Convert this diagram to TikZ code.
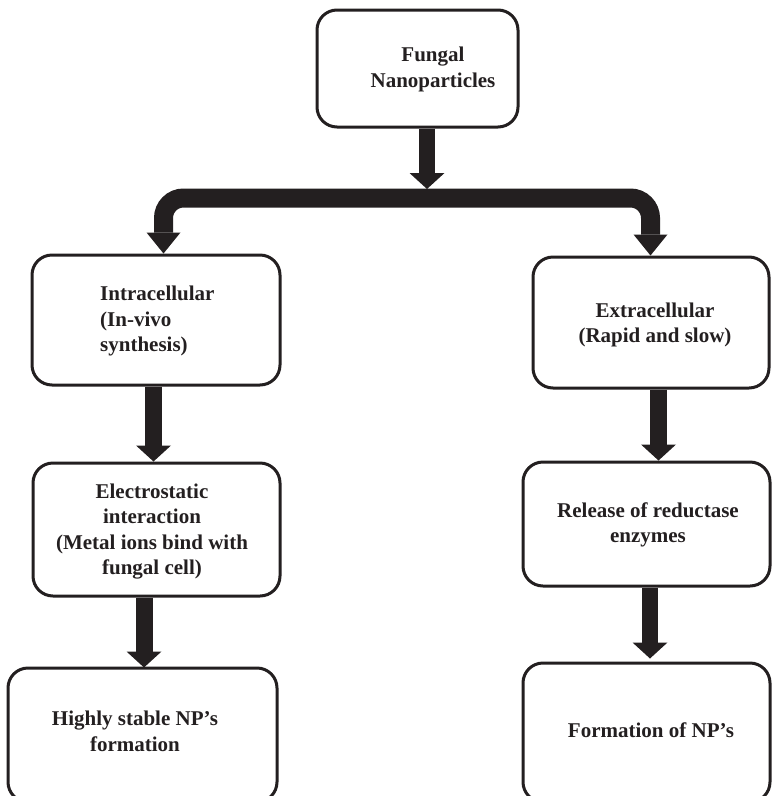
\documentclass[tikz,border=0pt]{standalone}
\usepackage{fontspec}
\setmainfont{Liberation Serif}
\usetikzlibrary{arrows.meta}
\definecolor{ink}{HTML}{231F20}
\begin{document}
\begin{tikzpicture}[x=1pt,y=-1pt,
  box/.style={draw=ink,line width=3pt,rounded corners=20pt,inner sep=0pt},
  txt/.style={text=ink,font=\bfseries\fontsize{21}{25.5}\selectfont,align=center,inner sep=0pt},
  bigarrow/.style={draw=ink,line width=17pt,-{Triangle[width=35pt,length=16pt,line width=0pt]}},
  bar/.style={draw=ink,line width=19pt,rounded corners=20pt,
    {Triangle[width=34pt,length=21pt,line width=0pt]}-{Triangle[width=34pt,length=21pt,line width=0pt]}}]
\useasboundingbox (0,0) rectangle (773,796);
\clip (0,0) rectangle (773,796);

% boxes
\node[box,minimum width=201pt,minimum height=117pt] (top) at (417.5,68.5) {};
\node[box,minimum width=248pt,minimum height=130pt] (intra) at (156,320) {};
\node[box,minimum width=236pt,minimum height=131pt] (extra) at (651,322.5) {};
\node[box,minimum width=247pt,minimum height=133pt] (electro) at (156.5,529.5) {};
\node[box,minimum width=247pt,minimum height=124pt] (release) at (646.5,524) {};
\node[box,minimum width=269pt,minimum height=134pt] (stable) at (142.5,735) {};
\node[box,minimum width=247pt,minimum height=139pt] (formation) at (646.5,732.5) {};

% texts
\node[txt] (toptxt) at (433,69.5) {Fungal\\Nanoparticles};
\node[txt,align=left,anchor=west] (intratxt) at (100,321) {Intracellular\\(In-vivo\\synthesis)};
\node[txt] (extratxt) at (655,325) {Extracellular\\(Rapid and slow)};
\node[txt] (electrotxt) at (152,531.5) {Electrostatic\\interaction\\(Metal ions bind with\\fungal cell)};
\node[txt] (releasetxt) at (648,525) {Release of reductase\\enzymes};
\node[txt] (stabletxt) at (135,731.5) {Highly stable NP’s\\formation};
\node[txt] (formationtxt) at (651,730) {Formation of NP’s};

% split connector
\coordinate (split) at (427,198);
\draw[bar] ([xshift=7.5pt]intra.north) |- (split) -| ([xshift=-0.5pt]extra.north);
\draw[bigarrow,line width=16pt] (top.south -| split) -- ([yshift=9pt]split);

% vertical arrows
\coordinate (a1) at ([xshift=-2.5pt]intra.south);
\draw[bigarrow] (a1) -- (a1 |- electro.north);
\coordinate (a2) at ([xshift=7.5pt]extra.south);
\draw[bigarrow] (a2) -- (a2 |- release.north);
\coordinate (a3) at ([xshift=-12.5pt]electro.south);
\draw[bigarrow] (a3) -- ([yshift=-1pt]a3 |- stable.north);
\coordinate (a4) at ([xshift=3.5pt]release.south);
\draw[bigarrow,line width=16pt] (a4) -- ([yshift=3pt]a4 |- formation.north);
\end{tikzpicture}
\end{document}
